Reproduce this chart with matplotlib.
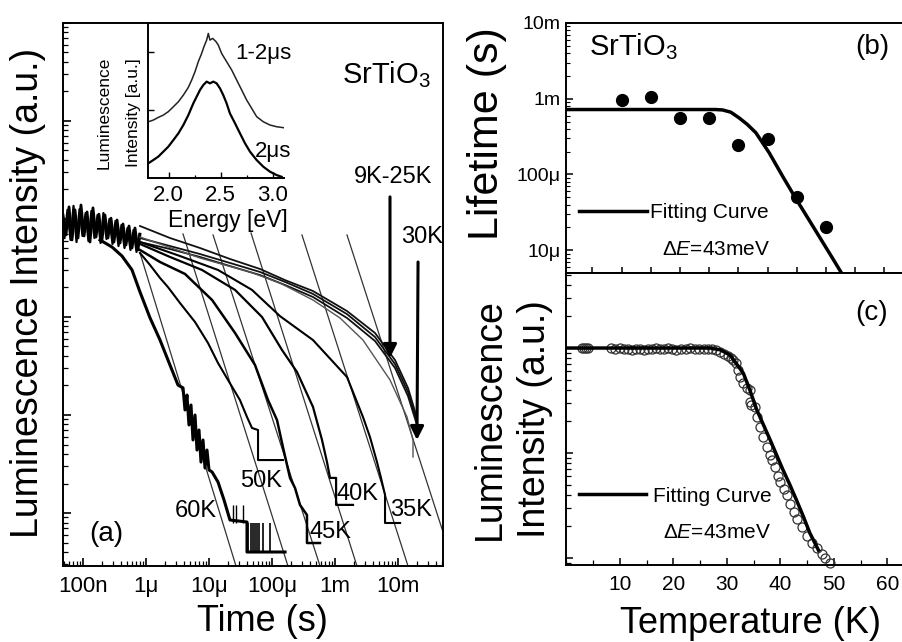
import numpy as np
import matplotlib
matplotlib.use("Agg")
import matplotlib.pyplot as plt
from matplotlib.ticker import (FixedLocator, FixedFormatter, LogLocator,
                               NullFormatter, MultipleLocator)

plt.rcParams['font.family'] = ['Liberation Sans', 'DejaVu Sans']
plt.rcParams['mathtext.fontset'] = 'custom'
plt.rcParams['mathtext.rm'] = 'Liberation Sans'
plt.rcParams['mathtext.it'] = 'Liberation Sans:italic'
plt.rcParams['mathtext.default'] = 'regular'

# ---------------- (a) luminescence decay ----------------
# noisy common start of all decay traces (two interleaved traces)
band_t = [4.82e-8, 5.37e-8, 6.0e-8, 6.69e-8, 7.46e-8, 8.33e-8, 9.29e-8, 1.04e-7,
          1.16e-7, 1.29e-7, 1.44e-7, 1.61e-7, 1.79e-7, 2.0e-7, 2.23e-7, 2.49e-7,
          2.78e-7, 3.1e-7, 3.47e-7, 3.87e-7, 4.31e-7, 4.81e-7, 5.37e-7, 6.0e-7,
          6.69e-7, 7.46e-7, 8.03e-7]
band_i = [1.10, 0.687, 1.33, 0.611, 1.24, 0.640, 1.39, 0.671, 1.18, 0.582, 1.30,
          0.655, 1.12, 0.611, 1.10, 0.640, 1.02, 0.582, 0.977, 0.569, 0.889, 0.543,
          0.848, 0.506, 0.809, 0.483, 0.70]
band2_t = [5.08e-8, 5.67e-8, 6.34e-8, 7.07e-8, 7.89e-8, 8.80e-8, 9.82e-8, 1.10e-7,
           1.22e-7, 1.36e-7, 1.52e-7, 1.70e-7, 1.90e-7, 2.11e-7, 2.36e-7, 2.63e-7,
           2.94e-7, 3.28e-7, 3.66e-7, 4.08e-7, 4.56e-7, 5.08e-7, 5.67e-7, 6.34e-7,
           7.07e-7, 7.89e-7]
band2_i = [0.640, 1.24, 0.611, 1.36, 0.582, 1.26, 0.671, 1.15, 0.596, 1.21, 0.640,
           1.10, 0.569, 1.15, 0.625, 1.0, 0.556, 0.954, 0.530, 0.869, 0.506, 0.809,
           0.483, 0.772, 0.461, 0.703]

# 9K-25K traces
t_low = [8.03e-7, 2.40e-6, 7.19e-6, 2.15e-5, 6.45e-5, 1.61e-4, 4.47e-4, 1.55e-3,
         4.31e-3, 8.96e-3, 1.44e-2, 2.0e-2]
i_low_1 = [0.848, 0.640, 0.506, 0.391, 0.309, 0.238, 0.184, 0.115, 0.0687, 0.0364, 0.0189, 0.00932]
i_low_2 = [0.640, 0.530, 0.439, 0.356, 0.288, 0.228, 0.172, 0.107, 0.0625, 0.0331, 0.0172, 0.00849]
i_low_3 = [0.582, 0.494, 0.410, 0.331, 0.268, 0.212, 0.160, 0.0977, 0.0569, 0.0302, 0.0156, 0.00791]

t_30K = [8.03e-7, 7.19e-6, 4.47e-5, 1.34e-4, 4.47e-4, 1.20e-3, 2.78e-3, 7.46e-3, 1.39e-2, 1.73e-2, 1.73e-2]
i_30K = [0.655, 0.400, 0.288, 0.222, 0.149, 0.0977, 0.0582, 0.0228, 0.00954, 0.00556, 0.00373]

t_35K = [8.03e-7, 3.46e-6, 1.39e-5, 4.81e-5, 1.34e-4, 4.47e-4, 1.55e-3, 2.78e-3,
         3.59e-3, 4.64e-3, 5.37e-3, 6.22e-3, 6.22e-3, 1.08e-2]
i_35K = [0.582, 0.419, 0.302, 0.189, 0.102, 0.0582, 0.0244, 0.00954, 0.00596,
         0.00331, 0.00228, 0.00153, 0.000791, 0.000791]

t_40K = [8.03e-7, 2.40e-6, 7.74e-6, 2.59e-5, 6.94e-5, 1.44e-4, 2.49e-4, 4.47e-4,
         6.22e-4, 7.46e-4, 8.33e-4, 1.04e-3, 1.04e-3, 1.93e-3]
i_40K = [0.556, 0.410, 0.302, 0.189, 0.100, 0.0461, 0.0275, 0.0121, 0.00556,
         0.00331, 0.00228, 0.00228, 0.00121, 0.00121]

t_45K = [8.03e-7, 1.67e-6, 4.16e-6, 1.12e-5, 2.59e-5, 5.37e-5, 8.64e-5, 1.20e-4,
         1.49e-4, 1.93e-4, 2.32e-4, 2.78e-4, 3.59e-4, 3.59e-4, 5.78e-4]
i_45K = [0.483, 0.364, 0.275, 0.149, 0.0687, 0.0324, 0.0142, 0.00889, 0.00472,
         0.00228, 0.00180, 0.00121, 0.000954, 0.000494, 0.000494]

t_50K = [8.03e-7, 1.16e-6, 1.67e-6, 2.23e-6, 3.46e-6, 6.0e-6, 9.64e-6, 1.39e-5,
         2.0e-5, 3.10e-5, 4.01e-5, 4.81e-5, 6.0e-5, 6.0e-5, 1.49e-4]
i_50K = [0.450, 0.339, 0.250, 0.202, 0.139, 0.0889, 0.0543, 0.0339, 0.0228,
         0.0142, 0.00954, 0.00737, 0.00703, 0.00347, 0.00347]

t_60K = [1.86e-7, 2.88e-7, 4.16e-7, 6.0e-7, 8.03e-7, 1.16e-6, 1.67e-6, 2.40e-6,
         3.22e-6, 3.87e-6, 4.16e-6, 4.47e-6, 4.81e-6, 5.18e-6, 5.57e-6, 6.0e-6,
         6.45e-6, 6.94e-6, 7.46e-6, 8.03e-6, 8.64e-6, 9.29e-6, 1.0e-5, 1.12e-5,
         1.39e-5, 1.73e-5, 2.15e-5, 4.01e-5, 4.01e-5, 1.61e-4]
i_60K = [0.611, 0.518, 0.419, 0.302, 0.180, 0.0977, 0.0582, 0.0324, 0.0202,
         0.0189, 0.01125, 0.0160, 0.00791, 0.01265, 0.00556, 0.0100, 0.00439,
         0.00703, 0.00331, 0.00556, 0.00288, 0.00439, 0.00275, 0.00262, 0.00207,
         0.00136, 0.000849, 0.000809, 0.000400, 0.000400]
# single-count spikes of the 60K trace
spike_t_60K = [4.16e-5, 4.64e-5, 4.99e-5, 5.37e-5, 5.78e-5, 6.22e-5, 7.19e-5, 9.29e-5]
spike_lo_60K, spike_hi_60K = 0.000400, 0.000791
spike2_t_60K = [2.40e-5, 2.68e-5, 3.46e-5]
spike2_hi_60K = 0.00121

# straight power-law guide lines (start / end)
fit_names = ['60K', '50K', '45K', '40K', '35K', '30K']
fit_t0 = [8.03e-7, 3.87e-6, 1.16e-5, 4.64e-5, 2.99e-4, 1.55e-3]
fit_i0 = [0.450, 0.703, 0.687, 0.720, 0.687, 0.687]
fit_t1 = [2.68e-5, 1.79e-4, 5.78e-4, 2.23e-3, 1.44e-2, 7.74e-2]
fit_i1 = [2.88e-4, 2.88e-4, 2.88e-4, 2.88e-4, 2.88e-4, 2.88e-4]

time_ticks = [1e-7, 1e-6, 1e-5, 1e-4, 1e-3, 1e-2]
time_tick_labels = ['100n', '1μ', '10μ', '100μ', '1m', '10m']

# inset spectra
E_upper = [1.803, 1.851, 1.899, 1.947, 1.995, 2.044, 2.092, 2.140, 2.188, 2.220,
           2.252, 2.284, 2.316, 2.338, 2.364, 2.380, 2.396, 2.422, 2.454, 2.476,
           2.508, 2.556, 2.605, 2.653, 2.701, 2.749, 2.797, 2.845, 2.909, 2.973,
           3.037, 3.101]
S_upper = [0.363, 0.374, 0.391, 0.406, 0.428, 0.460, 0.492, 0.535, 0.585, 0.632,
           0.686, 0.751, 0.804, 0.847, 0.890, 0.933, 0.890, 0.901, 0.880, 0.858,
           0.804, 0.751, 0.697, 0.632, 0.568, 0.503, 0.450, 0.396, 0.363, 0.342,
           0.331, 0.325]
E_lower = [1.803, 1.851, 1.899, 1.947, 1.995, 2.044, 2.092, 2.140, 2.188, 2.236,
           2.268, 2.300, 2.332, 2.364, 2.396, 2.428, 2.460, 2.492, 2.524, 2.556,
           2.588, 2.637, 2.685, 2.733, 2.781, 2.845, 2.909, 2.973, 3.037, 3.085]
S_lower = [0.095, 0.116, 0.138, 0.170, 0.202, 0.245, 0.288, 0.342, 0.406, 0.482,
           0.525, 0.568, 0.600, 0.622, 0.611, 0.622, 0.611, 0.579, 0.535, 0.482,
           0.417, 0.353, 0.288, 0.224, 0.170, 0.116, 0.073, 0.041, 0.019, 0.008]

# ---------------- (b) lifetime ----------------
life_T = [10, 15, 20, 25, 30, 35, 40, 45]
life_s = [9.6e-4, 1.06e-3, 5.6e-4, 5.6e-4, 2.43e-4, 2.95e-4, 5.1e-5, 2.0e-5]
life_fit_T = [0.5, 26.1, 27.3, 28.7, 30.1, 31.5, 33.0, 35.3, 37.6, 39.8, 42.1, 44.4, 46.1, 47.8]
life_fit_s = [7.2e-4, 7.2e-4, 7.1e-4, 6.64e-4, 5.6e-4, 4.6e-4, 3.55e-4, 1.92e-4,
              9.4e-5, 4.86e-5, 2.51e-5, 1.29e-5, 7.9e-6, 4.8e-6]
life_ticks = [1e-5, 1e-4, 1e-3, 1e-2]
life_tick_labels = ['10μ', '100μ', '1m', '10m']

# ---------------- (c) integrated intensity ----------------
int_T = [3.0, 3.3, 3.7, 4.1, 8.3, 9.2, 10.0, 10.8, 11.6, 12.3, 13.0, 13.8, 14.5,
         15.2, 16.0, 16.8, 17.5, 18.2, 19.0, 19.8, 20.6, 21.5, 22.3, 23.2, 24.0,
         24.8, 25.7, 26.5, 27.3, 28.0, 28.8, 29.5, 30.2, 30.8,
         31.2, 31.8, 32.1, 32.5, 33.1, 33.7, 34.3, 34.3, 34.6, 35.3, 35.6, 36.2,
         36.8, 37.5, 38.1, 38.4, 39.0, 39.6, 40.0, 40.6, 41.2, 41.8, 42.5, 43.1,
         44.0, 45.0, 45.9, 46.8, 47.8, 48.4, 49.2]
int_I = [1.0, 1.01, 0.99, 1.0, 0.99, 0.98, 0.99, 0.97, 0.98, 0.96, 0.97, 0.98, 0.96,
         0.97, 0.98, 0.99, 0.97, 0.98, 0.99, 0.98, 0.96, 0.97, 0.98, 0.99, 0.98,
         0.97, 0.98, 0.98, 0.97, 0.95, 0.92, 0.88, 0.84, 0.80,
         0.769, 0.715, 0.62, 0.53, 0.464, 0.42, 0.398, 0.308, 0.286, 0.274,
         0.222, 0.177, 0.143, 0.114, 0.0957, 0.0858, 0.0741, 0.060, 0.0533, 0.0455,
         0.040, 0.0330, 0.0275, 0.0235, 0.0197, 0.0163, 0.0140, 0.0124, 0.0110,
         0.0101, 0.0090]
int_fit_T = [0.0, 26.9, 28.8, 30.6, 32.0, 33.1, 34.3, 35.6, 36.8, 38.1, 39.3, 40.5,
             41.8, 43.0, 44.3, 45.5, 47.1]
int_fit_I = [1.0, 1.0, 0.96, 0.858, 0.686, 0.574, 0.398, 0.257, 0.1875, 0.133,
             0.0957, 0.0689, 0.0495, 0.0357, 0.0248, 0.0173, 0.0119]
temp_ticks = [10, 20, 30, 40, 50, 60]

# =====================================================================
fig = plt.figure(figsize=(9.03, 6.42), dpi=100)

SPINE_W = 1.4

def style_spines(ax, hide=()):
    for name, sp in ax.spines.items():
        sp.set_linewidth(SPINE_W)
        if name in hide:
            sp.set_visible(False)

# ---------- panel (a) ----------
ax_a = fig.add_axes([0.0698, 0.1184, 0.4208, 0.8458])
ax_a.set_xscale('log')
ax_a.set_yscale('log')
ax_a.set_xlim(4.82e-8, 5.18e-2)
ax_a.set_ylim(2.88e-4, 100)
style_spines(ax_a)

for t0, i0, t1, i1 in zip(fit_t0, fit_i0, fit_t1, fit_i1):
    ax_a.plot([t0, t1], [i0, i1], color='#333333', lw=0.9, zorder=2)

ax_a.plot(band_t, band_i, color='k', lw=2.0, zorder=3)
ax_a.plot(band2_t, band2_i, color='k', lw=1.6, zorder=3)
for ii in (i_low_1, i_low_2, i_low_3):
    ax_a.plot(t_low, ii, color='#111111', lw=1.3, zorder=3)
ax_a.plot(t_30K, i_30K, color='#555555', lw=1.0, zorder=3)
ax_a.plot(t_35K, i_35K, color='k', lw=1.5, zorder=3)
ax_a.plot(t_40K, i_40K, color='k', lw=1.6, zorder=3)
ax_a.plot(t_45K, i_45K, color='k', lw=1.8, zorder=3)
ax_a.plot(t_50K, i_50K, color='k', lw=1.5, zorder=3)
ax_a.plot(t_60K, i_60K, color='k', lw=2.2, zorder=3)
ax_a.vlines(spike_t_60K, spike_lo_60K, spike_hi_60K, color='k', lw=1.2, zorder=3)
ax_a.vlines(spike2_t_60K, spike_hi_60K, spike2_hi_60K, color='k', lw=1.0, zorder=3)

# arrows marking the low-temperature traces
ax_a.annotate('', xy=(7.46e-3, 0.0382), xytext=(7.46e-3, 1.68),
              arrowprops=dict(arrowstyle='-|>', lw=2.2, color='k',
                              mutation_scale=20, shrinkA=0, shrinkB=0))
ax_a.annotate('', xy=(2.0e-2, 0.00556), xytext=(2.08e-2, 0.364),
              arrowprops=dict(arrowstyle='-|>', lw=2.2, color='k',
                              mutation_scale=20, shrinkA=0, shrinkB=0))

ax_a.xaxis.set_major_locator(FixedLocator(time_ticks))
ax_a.xaxis.set_major_formatter(FixedFormatter(time_tick_labels))
ax_a.xaxis.set_minor_locator(LogLocator(base=10, subs=np.arange(2, 10), numticks=30))
ax_a.xaxis.set_minor_formatter(NullFormatter())
ax_a.yaxis.set_major_locator(LogLocator(base=10, numticks=30))
ax_a.yaxis.set_minor_locator(LogLocator(base=10, subs=np.arange(2, 10), numticks=30))
ax_a.yaxis.set_major_formatter(NullFormatter())
ax_a.yaxis.set_minor_formatter(NullFormatter())
ax_a.tick_params(which='both', direction='in', top=False, right=False)
ax_a.tick_params(which='major', length=6, width=1.2, labelsize=16, pad=7)
ax_a.tick_params(which='minor', length=3.5, width=0.9)

ax_a.set_ylabel('Luminescence Intensity (a.u.)', fontsize=27, va='center')
ax_a.yaxis.set_label_coords(-0.091, 0.502)
ax_a.set_xlabel('Time (s)', fontsize=26, va='center')
ax_a.xaxis.set_label_coords(0.524, -0.103)

ax_a.text(0.734, 0.889, 'SrTiO$_3$', transform=ax_a.transAxes, fontsize=21,
          ha='left', va='baseline')
ax_a.text(0.113, 0.059, '(a)', transform=ax_a.transAxes, fontsize=20,
          ha='center', va='center')
temp_label_pos = {'9K-25K': (0.868, 0.716), '30K': (0.945, 0.606),
                  '60K': (0.350, 0.101), '50K': (0.521, 0.157),
                  '45K': (0.703, 0.063), '40K': (0.776, 0.133),
                  '35K': (0.916, 0.103)}
for lab, (fx, fy) in temp_label_pos.items():
    ax_a.text(fx, fy, lab, transform=ax_a.transAxes, fontsize=17,
              ha='center', va='center', zorder=5)

# ---------- inset spectra ----------
ax_in = fig.add_axes([0.1639, 0.7227, 0.1506, 0.2414])
ax_in.patch.set_visible(False)
style_spines(ax_in, hide=('top', 'right'))
ax_in.set_xlim(1.8, 3.108)
ax_in.set_ylim(0, 1)
ax_in.plot(E_upper, S_upper, color='#222222', lw=1.1)
ax_in.plot(E_lower, S_lower, color='k', lw=1.6)
ax_in.xaxis.set_major_locator(FixedLocator([2.0, 2.5, 3.0]))
ax_in.xaxis.set_major_formatter(FixedFormatter(['2.0', '2.5', '3.0']))
ax_in.xaxis.set_minor_locator(FixedLocator([2.25, 2.75]))
ax_in.yaxis.set_major_locator(FixedLocator([0.44, 0.81]))
ax_in.yaxis.set_major_formatter(NullFormatter())
ax_in.tick_params(which='both', direction='in', top=False, right=False)
ax_in.tick_params(which='major', length=4, width=1.0, labelsize=16, pad=5)
ax_in.tick_params(which='minor', length=2.5, width=0.9)
ax_in.set_xlabel('Energy [eV]', fontsize=16.5, va='center')
ax_in.xaxis.set_label_coords(0.588, -0.271)
ax_in.text(-0.324, 0.42, 'Luminescence', transform=ax_in.transAxes, fontsize=12.5,
           rotation=90, ha='center', va='center')
ax_in.text(-0.103, 0.42, 'Intensity [a.u.]', transform=ax_in.transAxes, fontsize=12.5,
           rotation=90, ha='center', va='center')
ax_in.text(0.846, 0.806, '1-2μs', transform=ax_in.transAxes, fontsize=16,
           ha='center', va='center')
ax_in.text(0.919, 0.174, '2μs', transform=ax_in.transAxes, fontsize=16,
           ha='center', va='center')

# ---------- panel (b) ----------
ax_b = fig.add_axes([0.627, 0.5748, 0.373, 0.3894])
ax_b.set_yscale('log')
ax_b.set_xlim(0.5, 58.2)
ax_b.set_ylim(5.0e-6, 1e-2)
style_spines(ax_b, hide=('right',))
ax_b.plot(life_fit_T, life_fit_s, color='k', lw=2.5, label='Fitting Curve')
ax_b.plot(life_T, life_s, 'o', color='k', ms=8.5)
ax_b.xaxis.set_major_locator(MultipleLocator(5))
ax_b.xaxis.set_major_formatter(NullFormatter())
ax_b.yaxis.set_major_locator(FixedLocator(life_ticks))
ax_b.yaxis.set_major_formatter(FixedFormatter(life_tick_labels))
ax_b.yaxis.set_minor_locator(LogLocator(base=10, subs=np.arange(2, 10), numticks=30))
ax_b.yaxis.set_minor_formatter(NullFormatter())
ax_b.tick_params(axis='y', which='both', direction='in', right=False)
ax_b.tick_params(axis='y', which='major', length=5, width=1.1, labelsize=14, pad=4)
ax_b.tick_params(axis='y', which='minor', length=3, width=0.8)
ax_b.tick_params(axis='x', which='major', direction='inout', length=8, width=1.1,
                 top=False)
ax_b.set_ylabel('Lifetime (s)', fontsize=31, va='center')
ax_b.yaxis.set_label_coords(-0.234, 0.558)
ax_b.text(0.068, 0.872, 'SrTiO$_3$', transform=ax_b.transAxes, fontsize=21,
          ha='left', va='baseline')
ax_b.text(0.908, 0.904, '(b)', transform=ax_b.transAxes, fontsize=20,
          ha='center', va='center')
ax_b.legend(loc='center left', bbox_to_anchor=(0.039, 0.24), frameon=False,
            fontsize=15, handlelength=3.24, handletextpad=0.15, borderpad=0,
            borderaxespad=0)
ax_b.text(0.285, 0.092, r'$\it{ΔE}$=43meV', transform=ax_b.transAxes,
          fontsize=15, ha='left', va='center')

# ---------- panel (c) ----------
ax_c = fig.add_axes([0.627, 0.1199, 0.373, 0.4548])
ax_c.set_yscale('log')
ax_c.set_xlim(0, 62.9)
ax_c.set_ylim(0.00857, 5.18)
style_spines(ax_c, hide=('right',))
ax_c.plot(int_fit_T, int_fit_I, color='k', lw=2.5, label='Fitting Curve', zorder=3)
ax_c.plot(int_T, int_I, 'o', mfc='none', mec='#333333', ms=6.5, mew=0.9,
          zorder=2, clip_on=False)
ax_c.xaxis.set_major_locator(FixedLocator(temp_ticks))
ax_c.xaxis.set_minor_locator(MultipleLocator(5))
ax_c.yaxis.set_major_locator(LogLocator(base=10, numticks=30))
ax_c.yaxis.set_minor_locator(LogLocator(base=10, subs=np.arange(2, 10), numticks=30))
ax_c.yaxis.set_major_formatter(NullFormatter())
ax_c.yaxis.set_minor_formatter(NullFormatter())
ax_c.tick_params(which='both', direction='in', top=False, right=False)
ax_c.tick_params(which='major', length=5, width=1.1, labelsize=15, pad=7)
ax_c.tick_params(which='minor', length=3.5, width=0.9)
ax_c.set_ylabel('Luminescence\nIntensity (a.u.)', fontsize=27, va='center',
                linespacing=1.35)
ax_c.yaxis.set_label_coords(-0.160, 0.50)
ax_c.set_xlabel('Temperature (K)', fontsize=26, va='center')
ax_c.xaxis.set_label_coords(0.546, -0.199)
ax_c.text(0.908, 0.863, '(c)', transform=ax_c.transAxes, fontsize=20,
          ha='center', va='center')
ax_c.legend(loc='center left', bbox_to_anchor=(0.039, 0.236), frameon=False,
            fontsize=15, handlelength=3.2, handletextpad=0.33, borderpad=0,
            borderaxespad=0)
ax_c.text(0.286, 0.11, r'$\it{ΔE}$=43meV', transform=ax_c.transAxes,
          fontsize=15, ha='left', va='center')

fig.savefig('out.png', dpi=100)
